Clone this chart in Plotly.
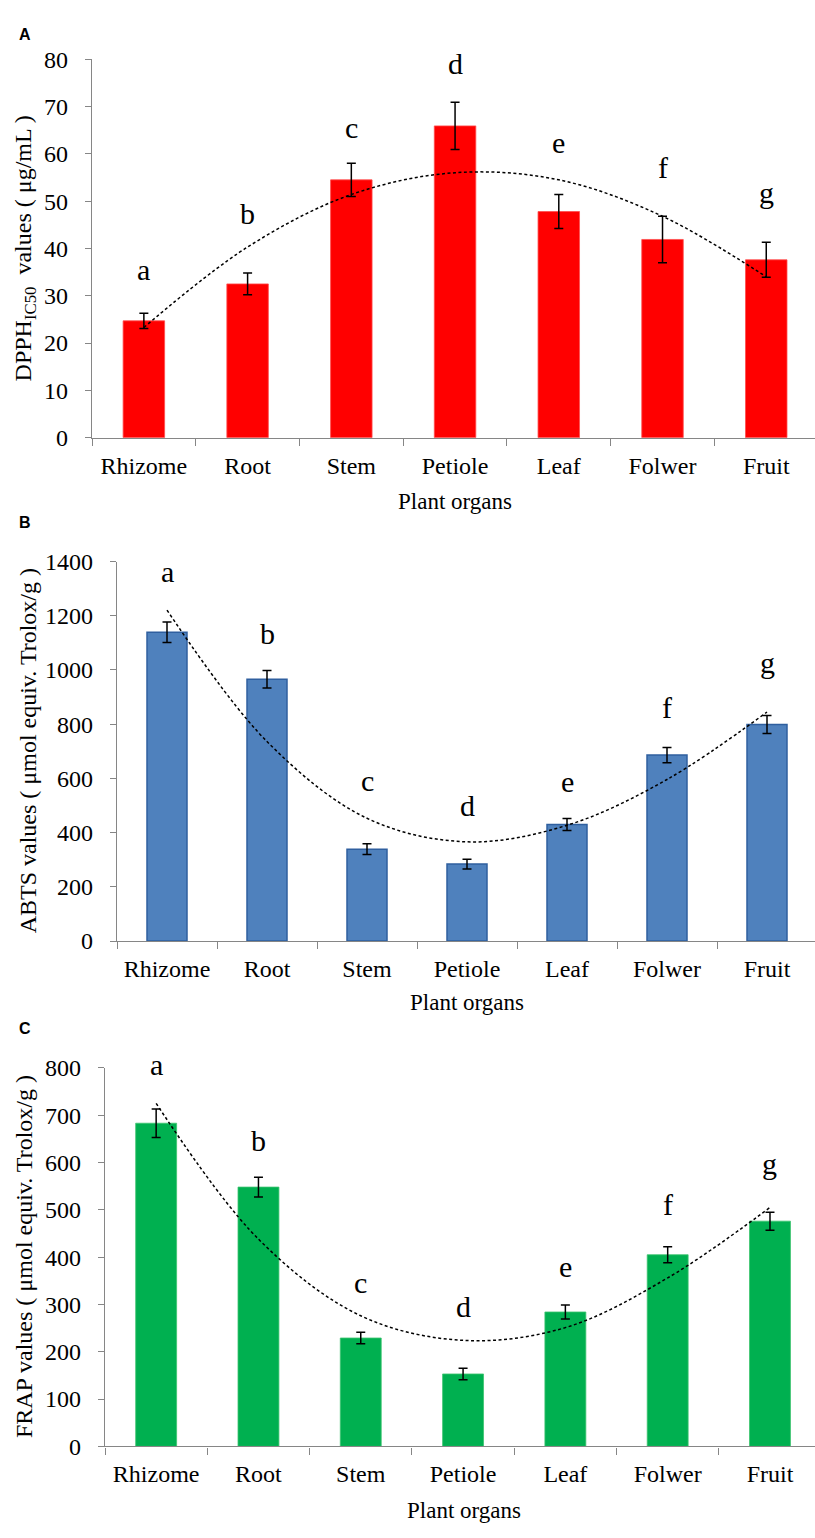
import plotly.graph_objects as go

W, H = 815, 1538

organs = ["Rhizome", "Root", "Stem", "Petiole", "Leaf", "Folwer", "Fruit"]
letters = ["a", "b", "c", "d", "e", "f", "g"]

dpph = [24.7, 32.5, 54.5, 65.9, 47.8, 41.9, 37.6]
dpph_err = [1.6, 2.3, 3.5, 5.0, 3.6, 4.9, 3.7]
dpph_trend = [23.3, 40.3, 51.4, 56.0, 54.5, 46.8, 34.0]
dpph_letter_y = [35.5, 47.3, 65.6, 79.1, 62.3, 57.1, 51.9]

abts = [1139, 966, 339, 284, 430, 686, 799]
abts_err = [38, 32, 20, 18, 22, 28, 33]
abts_trend = [1221, 736, 453, 366, 427, 596, 845]
abts_letter_y = [1362, 1136, 591, 500, 587, 863, 1027]

frap = [683, 548, 229, 153, 284, 405, 476]
frap_err = [30, 21, 12, 12, 15, 17, 19]
frap_trend = [725, 438, 276, 224, 251, 356, 505]
frap_letter_y = [808, 646, 347, 295, 381, 512, 598]

SERIF = "Liberation Serif"
SANS = "Liberation Sans"
AXC = "#868686"


def px_x(p):
    return p / W


def px_y(p):
    return 1 - p / H


panels = [
    dict(vals=dpph, err=dpph_err, trend=dpph_trend, ly=dpph_letter_y,
         fill="#ff0000", edge="#ff4d4d", ew=0.8,
         left=92, top=47, bottom=432, yr=[0, 80], dt=10, xr=[-0.5, 6.47],
         label="A", label_y=21.5,
         ytitle="DPPH<sub>IC50</sub>  values ( μg/mL )", ytx=25,
         xt_x=455, xt_y=497),
    dict(vals=abts, err=abts_err, trend=abts_trend, ly=abts_letter_y,
         fill="#4f81bd", edge="#2f5f9f", ew=1.5,
         left=117, top=558, bottom=944, yr=[0, 1400], dt=200, xr=[-0.5, 6.48],
         label="B", label_y=518.5,
         ytitle="ABTS values ( μmol equiv. Trolox/g )", ytx=28,
         xt_x=467, xt_y=1007),
    dict(vals=frap, err=frap_err, trend=frap_trend, ly=frap_letter_y,
         fill="#00b050", edge="#3cc46f", ew=0.8,
         left=105, top=1073, bottom=1458, yr=[0, 800], dt=100, xr=[-0.5, 6.44],
         label="C", label_y=1032.5,
         ytitle="FRAP values ( μmol equiv. Trolox/g )", ytx=24,
         xt_x=464, xt_y=1523),
]

fig = go.Figure()
annotations = []

for i, p in enumerate(panels, start=1):
    xa = "x" if i == 1 else f"x{i}"
    ya = "y" if i == 1 else f"y{i}"
    fig.add_trace(go.Bar(
        x=organs, y=p["vals"], xaxis=xa, yaxis=ya, width=0.4,
        marker=dict(color=p["fill"], line=dict(color=p["edge"], width=p["ew"])),
        error_y=dict(type="data", array=p["err"], visible=True, color="black",
                     thickness=1.5, width=4.5),
        showlegend=False, hoverinfo="skip",
    ))
    fig.add_trace(go.Scatter(
        x=organs, y=p["trend"], xaxis=xa, yaxis=ya, mode="lines",
        line=dict(color="black", width=1.5, dash="3px,2.5px", shape="spline", smoothing=1.0),
        showlegend=False, hoverinfo="skip",
    ))
    y0, y1 = p["yr"]
    for org, let, ly in zip(organs, letters, p["ly"]):
        annotations.append(dict(
            text=let, x=org, y=(ly - y0) / (y1 - y0), xref=xa, yref=f"{ya} domain",
            xanchor="center", yanchor="middle", showarrow=False,
            font=dict(family=SERIF, size=30, color="black")))
    xkey = "xaxis" if i == 1 else f"xaxis{i}"
    ykey = "yaxis" if i == 1 else f"yaxis{i}"
    fig.update_layout(**{
        xkey: dict(domain=[px_x(p["left"]), 1], anchor=ya, type="category",
                   range=p["xr"], showline=True, linecolor=AXC, linewidth=1.3,
                   ticks="outside", tickson="boundaries", ticklen=7, tickcolor=AXC,
                   tickwidth=1.3, showgrid=False, zeroline=False,
                   tickfont=dict(family=SERIF, size=24, color="black"),
                   ticklabelstandoff=6),
        ykey: dict(domain=[px_y(p["bottom"]), px_y(p["top"])], anchor=xa,
                   range=p["yr"], dtick=p["dt"], showline=True, linecolor=AXC,
                   linewidth=1.3, ticks="outside", ticklen=6, tickcolor=AXC,
                   tickwidth=1.3, showgrid=False, zeroline=False,
                   tickfont=dict(family=SERIF, size=24, color="black"),
                   ticklabelstandoff=12),
    })
    annotations.append(dict(
        text=f"<b>{p['label']}</b>", x=px_x(17), y=px_y(p["label_y"]),
        xref="paper", yref="paper", xanchor="left", yanchor="middle",
        showarrow=False, font=dict(family=SANS, size=16, color="black")))
    annotations.append(dict(
        text=p["ytitle"], x=px_x(p["ytx"]), y=px_y((p["top"] + p["bottom"]) / 2),
        xref="paper", yref="paper", xanchor="center", yanchor="middle",
        textangle=-90, showarrow=False,
        font=dict(family=SERIF, size=24, color="black")))
    annotations.append(dict(
        text="Plant organs", x=px_x(p["xt_x"]), y=px_y(p["xt_y"]),
        xref="paper", yref="paper", xanchor="center", yanchor="middle",
        showarrow=False, font=dict(family=SERIF, size=23, color="black")))

fig.update_layout(
    width=W, height=H, margin=dict(l=0, r=0, t=0, b=0),
    paper_bgcolor="white", plot_bgcolor="white",
    font=dict(family=SERIF, color="black"),
    annotations=annotations, bargap=0.6, showlegend=False,
)

fig.write_html(
    "out.html",
    config={"displayModeBar": False},
    post_script="document.body.style.margin='0';document.body.style.overflow='hidden';",
)
